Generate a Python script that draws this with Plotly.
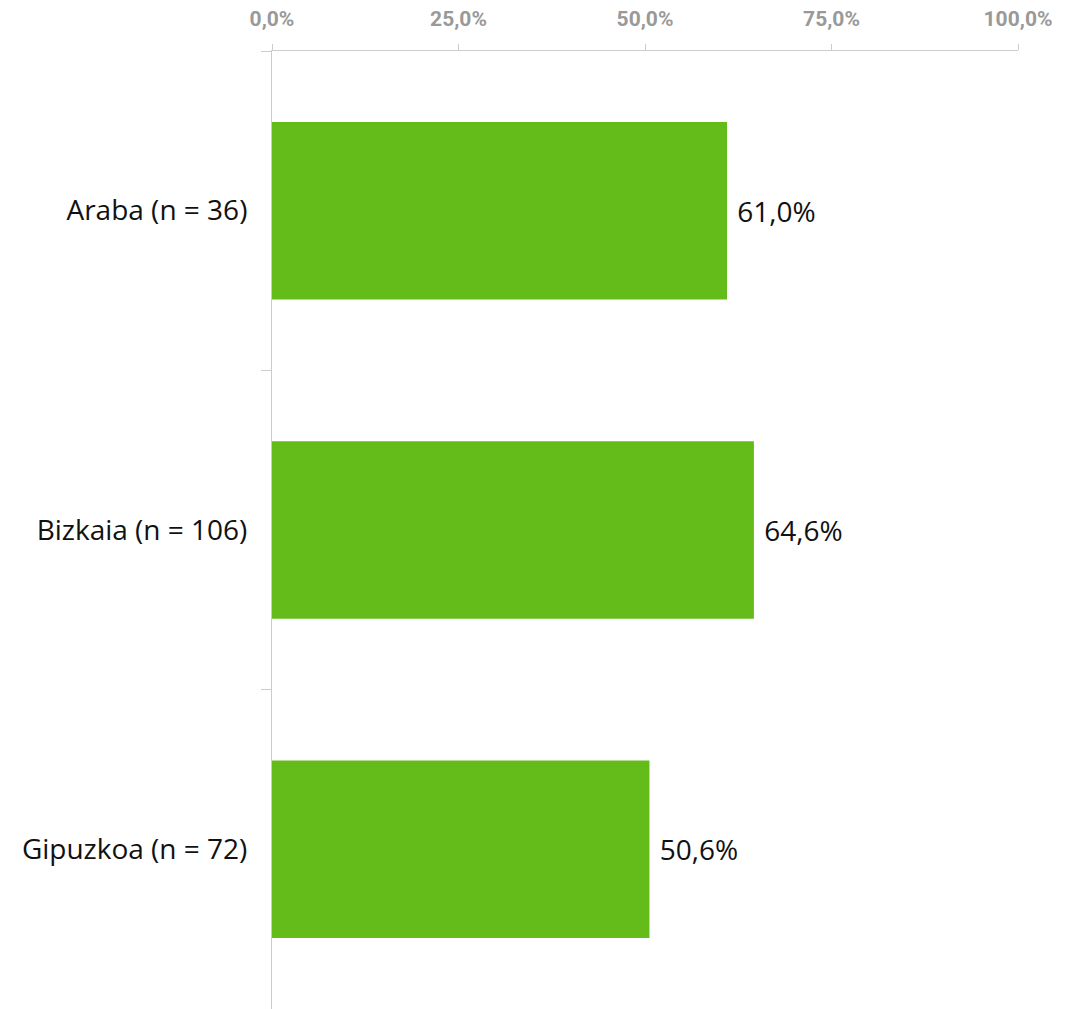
import plotly.graph_objects as go

# Share of respondents per territory
territories = ["Araba (n = 36)", "Bizkaia (n = 106)", "Gipuzkoa (n = 72)"]
shares = [61.0, 64.6, 50.6]
tick_values = [0, 25, 50, 75, 100]
tick_labels = [f"{v:.1f}%".replace(".", ",") for v in tick_values]

bar_color = "#64bc1a"
axis_color = "#cccccc"

fig = go.Figure(
    go.Bar(
        y=territories,
        x=shares,
        orientation="h",
        marker=dict(color=bar_color, line=dict(width=0)),
        texttemplate=" %{x:.1f}%",
        textposition="outside",
        textfont=dict(family="Open Sans", size=28, color="#111111"),
        cliponaxis=False,
        hoverinfo="skip",
    )
)

fig.update_layout(
    width=1075,
    height=1009,
    margin=dict(l=272, r=57, t=51, b=0),
    paper_bgcolor="white",
    plot_bgcolor="white",
    separators=",.",
    bargap=0.444,
    showlegend=False,
    xaxis=dict(
        side="top",
        range=[0, 100],
        tickvals=tick_values,
        ticktext=tick_labels,
        ticks="outside",
        ticklen=6,
        tickcolor=axis_color,
        tickwidth=1,
        showline=True,
        linecolor=axis_color,
        linewidth=1,
        showgrid=False,
        zeroline=False,
        ticklabelstandoff=10,
        tickfont=dict(family="Roboto", size=21, color="#999999", weight="bold"),
    ),
    yaxis=dict(
        autorange="reversed",
        tickson="boundaries",
        ticks="outside",
        ticklen=10,
        tickcolor=axis_color,
        tickwidth=1,
        showline=True,
        linecolor=axis_color,
        linewidth=1,
        showgrid=False,
        zeroline=False,
        ticklabelstandoff=18,
        tickfont=dict(family="Open Sans", size=28, color="#111111"),
    ),
)

fig.write_html("out.html")
